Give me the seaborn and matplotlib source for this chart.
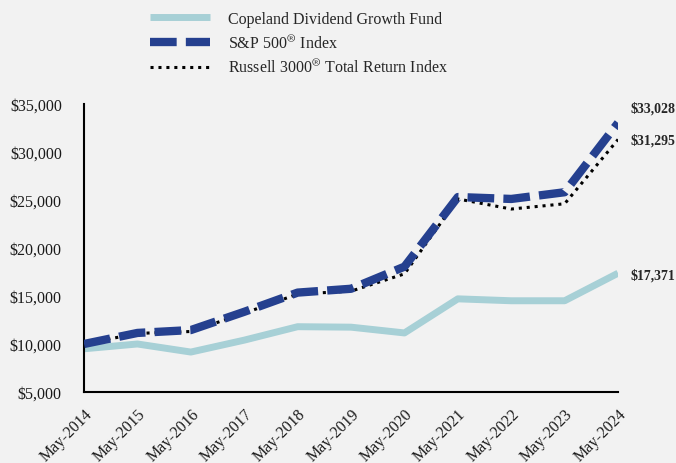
import numpy as np
import pandas as pd
import matplotlib.pyplot as plt
import seaborn as sns

# values
periods = ["May-2014", "May-2015", "May-2016", "May-2017", "May-2018", "May-2019",
           "May-2020", "May-2021", "May-2022", "May-2023", "May-2024"]
fund = [9500, 10000, 9160, 10400, 11800, 11750, 11150, 14700, 14500, 14500, 17371]
sp500 = [10000, 11150, 11450, 13350, 15350, 15750, 18050, 25300, 25100, 25800, 33028]
russell = [10000, 11100, 11300, 13200, 15200, 15500, 17300, 25100, 24050, 24600, 31295]

names = ["Copeland Dividend Growth Fund", "S&P 500$^{\u00ae}$ Index",
         "Russell 3000$^{\u00ae}$ Total Return Index"]

df = pd.DataFrame({
    "Period": periods * 3,
    "Value": fund + sp500 + russell,
    "Series": np.repeat(names, len(periods)),
})

bg = "#f2f2f2"
sns.set_style("white", rc={"axes.facecolor": bg, "figure.facecolor": bg})
plt.rcParams["font.family"] = ["Liberation Serif", "DejaVu Serif"]
plt.rcParams["mathtext.fontset"] = "stix"

fig = plt.figure(figsize=(6.76, 4.64), dpi=100)
ax = fig.add_axes([0.1243, 0.153, 0.790, 0.621])

palette = {names[0]: "#a7d0d6", names[1]: "#25408f", names[2]: "#000000"}
dashes = {names[0]: "", names[1]: (3.2, 1.1), names[2]: (1, 1.6)}
sizes = {names[0]: 5.0, names[1]: 6.0, names[2]: 2.2}

sns.lineplot(data=df, x="Period", y="Value", hue="Series", style="Series",
             size="Series", palette=palette, dashes=dashes, sizes=sizes,
             hue_order=names, style_order=names, size_order=names,
             legend=False, ax=ax)

# dotted Russell line sits under the dashed S&P line
lines = ax.get_lines()
lines[0].set_zorder(2)
lines[1].set_zorder(4)
lines[2].set_zorder(3)
for ln in lines:
    ln.set_solid_capstyle("butt")
    ln.set_dash_capstyle("butt")

ax.set_xlim(0, len(periods) - 1)
ax.set_ylim(5000, 35000)
ax.set_yticks(range(5000, 35001, 5000))
ax.yaxis.set_major_formatter(plt.FuncFormatter(lambda v, p: f"${v:,.0f}"))
ax.set_xlabel("")
ax.set_ylabel("")
ax.tick_params(axis="both", length=0, labelsize=11.5, colors="#1a1a1a")
ax.tick_params(axis="y", pad=16)
ax.tick_params(axis="x", pad=10)
plt.setp(ax.get_xticklabels(), rotation=45, ha="right", rotation_mode="anchor")

for s in ["top", "right"]:
    ax.spines[s].set_visible(False)
for s in ["left", "bottom"]:
    ax.spines[s].set_color("black")
    ax.spines[s].set_linewidth(1.5)

# end-of-line value labels
ends = [(fund[-1], -1), (sp500[-1], 11), (russell[-1], 0)]
for val, dy in ends:
    ax.annotate(f"${val:,.0f}", xy=(len(periods) - 1, val), xytext=(9, dy),
                textcoords="offset points", va="center", ha="left",
                fontsize=10, fontweight="bold", annotation_clip=False)

leg = fig.legend(handles=[lines[0], lines[1], lines[2]], labels=names,
                 loc="upper left", bbox_to_anchor=(0.2, 1.005), frameon=False,
                 fontsize=11.5, handlelength=3.8, handletextpad=1.1,
                 labelspacing=0.45)

fig.savefig("out.png", dpi=100, facecolor=bg)
